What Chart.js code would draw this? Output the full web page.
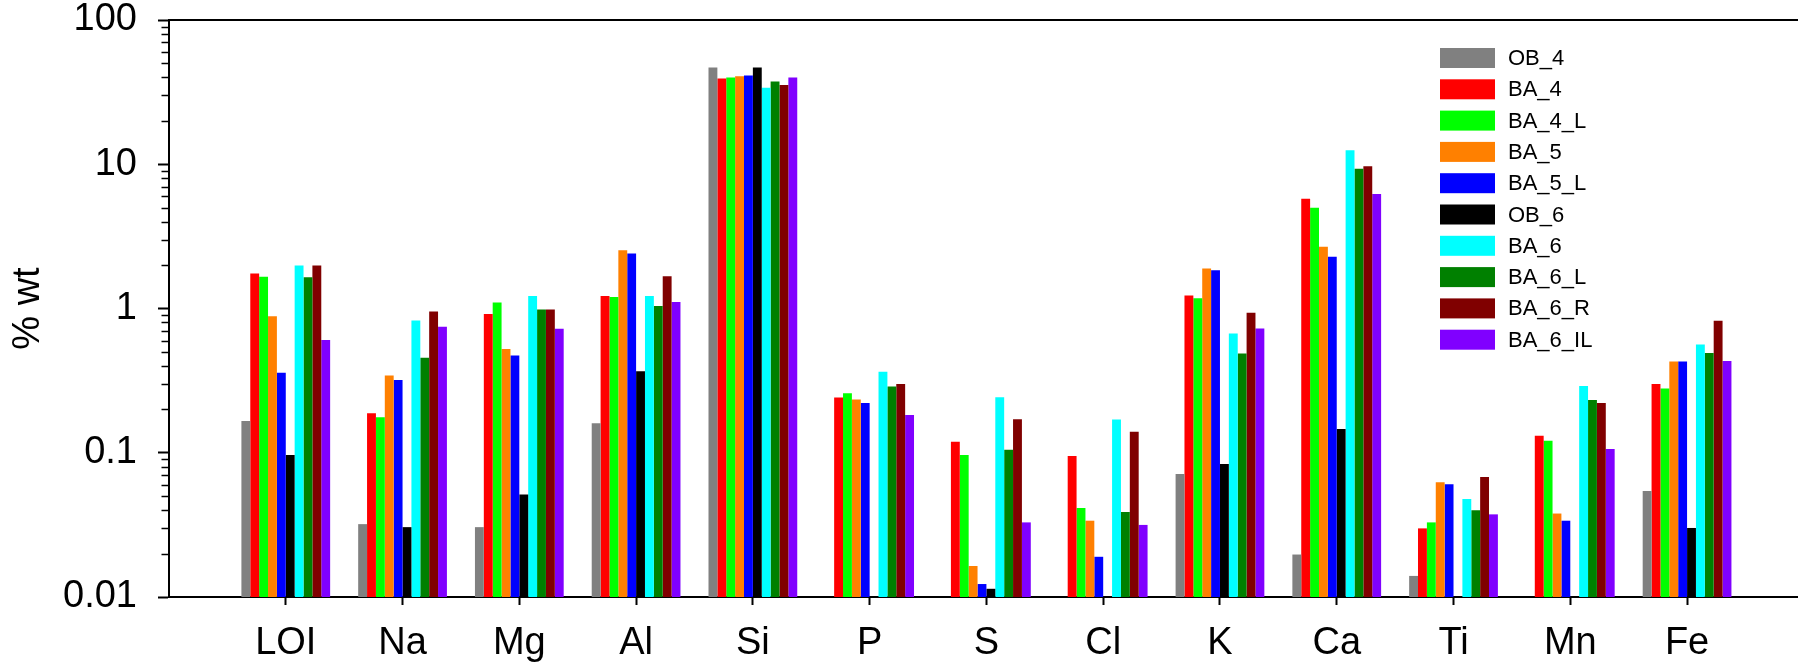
<!DOCTYPE html>
<html>
<head>
<meta charset="utf-8">
<script src="https://cdn.jsdelivr.net/npm/chart.js@4/dist/chart.umd.min.js"></script>
<style>
  html, body { margin: 0; padding: 0; background: #fff; overflow: hidden; }
  #wrap { width: 1798px; height: 665px; }
</style>
</head>
<body>
<div id="wrap"><canvas id="elementsChart" width="1798" height="665"></canvas></div>
<script>
const categories = ["LOI", "Na", "Mg", "Al", "Si", "P", "S", "Cl", "K", "Ca", "Ti", "Mn", "Fe"];

const OB_4   = [0.166, 0.032, 0.0305, 0.160, 46.9, null, null, null, 0.0711, 0.0197, 0.014, null, 0.0542];
const BA_4   = [1.75, 0.188, 0.915, 1.22, 39.3, 0.242, 0.119, 0.095, 1.23, 5.76, 0.0299, 0.131, 0.300];
const BA_4_L = [1.66, 0.176, 1.10, 1.20, 39.9, 0.259, 0.0963, 0.0414, 1.18, 5.00, 0.0329, 0.121, 0.279];
const BA_5   = [0.885, 0.343, 0.523, 2.53, 40.7, 0.234, 0.0164, 0.0338, 1.89, 2.68, 0.0625, 0.0379, 0.429];
const BA_5_L = [0.358, 0.319, 0.472, 2.41, 41.2, 0.221, 0.0123, 0.019, 1.84, 2.28, 0.0604, 0.0338, 0.429];
const OB_6   = [0.0963, 0.0305, 0.0514, 0.368, 46.9, null, 0.0114, null, 0.0836, 0.146, null, null, 0.0301];
const BA_6   = [1.99, 0.827, 1.22, 1.22, 33.9, 0.365, 0.243, 0.170, 0.671, 12.5, 0.0477, 0.290, 0.563];
const BA_6_L = [1.65, 0.456, 0.986, 1.04, 37.5, 0.288, 0.105, 0.0389, 0.488, 9.31, 0.040, 0.232, 0.492];
const BA_6_R = [1.99, 0.953, 0.986, 1.67, 35.5, 0.300, 0.171, 0.140, 0.935, 9.70, 0.0678, 0.221, 0.822];
const BA_6_IL = [0.606, 0.748, 0.723, 1.11, 39.9, 0.183, 0.0329, 0.0316, 0.728, 6.21, 0.0374, 0.106, 0.432];

const seriesNames = ["OB_4", "BA_4", "BA_4_L", "BA_5", "BA_5_L", "OB_6", "BA_6", "BA_6_L", "BA_6_R", "BA_6_IL"];
const seriesValues = [OB_4, BA_4, BA_4_L, BA_5, BA_5_L, OB_6, BA_6, BA_6_L, BA_6_R, BA_6_IL];
const seriesColors = ["#808080", "#ff0000", "#00ff00", "#ff8000", "#0000ff", "#000000", "#00ffff", "#008000", "#800000", "#8000ff"];

const yMajorTicks = [0.01, 0.1, 1, 10, 100];
const yTickLabels = ["0.01", "0.1", "1", "10", "100"];

const fontFamily = "'Liberation Sans', Arial, Helvetica, sans-serif";

// minor log ticks + top frame line
const frameAndMinorTicks = {
  id: "frameAndMinorTicks",
  afterDraw(chart) {
    const { ctx, chartArea } = chart;
    const y = chart.scales.y;
    ctx.save();
    ctx.strokeStyle = "#000";
    ctx.lineWidth = 2;
    ctx.beginPath();
    ctx.moveTo(chartArea.left, chartArea.top);
    ctx.lineTo(chartArea.right, chartArea.top);
    ctx.stroke();
    ctx.lineWidth = 1.5;
    for (let i = 0; i < yMajorTicks.length - 1; i++) {
      for (let k = 2; k <= 9; k++) {
        const py = Math.round(y.getPixelForValue(yMajorTicks[i] * k)) + 0.5;
        ctx.beginPath();
        ctx.moveTo(chartArea.left - 7.5, py);
        ctx.lineTo(chartArea.left, py);
        ctx.stroke();
      }
    }
    ctx.restore();
  }
};

// legend drawn inside the plot, top right
const boxLegend = {
  id: "boxLegend",
  afterDraw(chart) {
    const { ctx } = chart;
    ctx.save();
    ctx.font = "22px " + fontFamily;
    ctx.textBaseline = "middle";
    chart.data.datasets.forEach((ds, i) => {
      const cy = 58 + i * 31.3;
      ctx.fillStyle = ds.backgroundColor;
      ctx.fillRect(1440, cy - 10, 55, 20);
      ctx.fillStyle = "#000";
      ctx.fillText(ds.label, 1508, cy + 1);
    });
    ctx.restore();
  }
};

const ctx = document.getElementById("elementsChart");

new Chart(ctx, {
  type: "bar",
  data: {
    labels: categories.map((_, i) => i + 1),
    datasets: seriesNames.map((name, i) => ({
      label: name,
      data: seriesValues[i],
      backgroundColor: seriesColors[i],
      borderWidth: 0,
      categoryPercentage: 0.76,
      barPercentage: 1.0,
    })),
  },
  options: {
    responsive: false,
    animation: false,
    devicePixelRatio: 1,
    layout: { padding: { top: 20, right: 0, left: 0, bottom: 0 } },
    plugins: {
      legend: { display: false },
      tooltip: { enabled: false },
    },
    scales: {
      x: {
        type: "linear",
        min: 0,
        max: 13.95,
        offset: false,
        afterBuildTicks: (scale) => {
          scale.ticks = categories.map((_, i) => ({ value: i + 1 }));
        },
        afterFit: (scale) => {
          scale.height = 68;
          scale.paddingLeft = 0;
          scale.paddingRight = 0;
        },
        ticks: {
          autoSkip: false,
          maxRotation: 0,
          color: "#000",
          padding: 16,
          font: { family: fontFamily, size: 38 },
          callback: (value, index) => categories[index],
        },
        grid: {
          display: true,
          offset: false,
          drawOnChartArea: false,
          tickLength: 8,
          tickWidth: 2,
          color: "#000",
        },
        border: { display: true, color: "#000", width: 2 },
      },
      y: {
        type: "logarithmic",
        min: 0.01,
        max: 100,
        afterBuildTicks: (scale) => {
          scale.ticks = yMajorTicks.map((v) => ({ value: v, major: true }));
        },
        afterFit: (scale) => {
          scale.width = 169;
          scale.paddingTop = 0;
          scale.paddingBottom = 0;
        },
        ticks: {
          color: "#000",
          padding: 21,
          font: { family: fontFamily, size: 38 },
          callback: (value, index) => yTickLabels[index],
        },
        grid: {
          display: true,
          drawOnChartArea: false,
          tickLength: 11,
          tickWidth: 2,
          color: "#000",
        },
        border: { display: true, color: "#000", width: 2 },
        title: {
          display: true,
          text: "% wt",
          color: "#000",
          font: { family: fontFamily, size: 38 },
          padding: { top: 6, bottom: 0 },
        },
      },
    },
  },
  plugins: [frameAndMinorTicks, boxLegend],
});
</script>
</body>
</html>
